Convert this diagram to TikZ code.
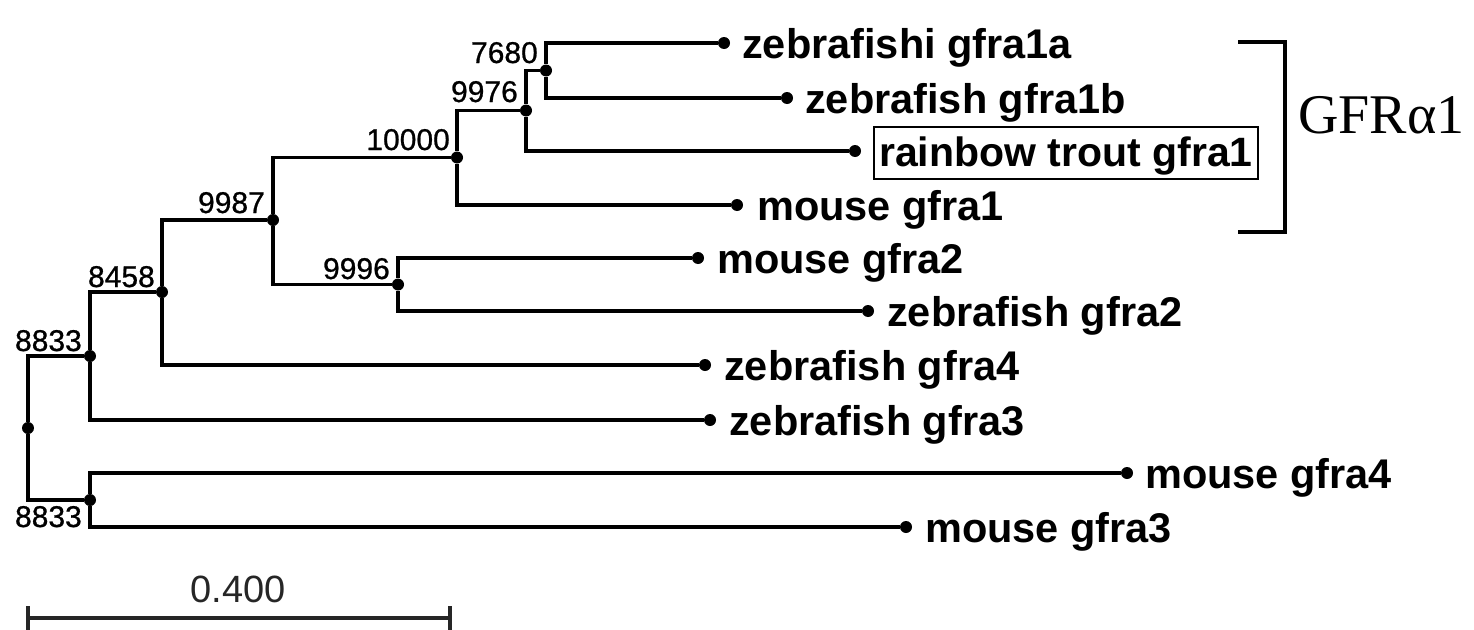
\documentclass[tikz,border=0pt]{standalone}
\usepackage{fontspec}
\setmainfont{Liberation Sans}
\newfontfamily\greekserif{Liberation Serif}
\newfontfamily\bootfont[FakeBold=0.8]{Liberation Sans}
\begin{document}
\begin{tikzpicture}[x=1pt,y=-1pt,
  branch/.style={line width=3.6pt},
  knot/.style={circle,fill=black,inner sep=0pt,minimum size=12pt},
  boot/.style={inner sep=0pt,anchor=base east,font=\bootfont\fontsize{30}{30}\selectfont},
  taxon/.style={inner sep=0pt,anchor=base west,font=\fontsize{41.5}{41.5}\selectfont\bfseries},
  hilite/.style={draw,line width=2.4pt,inner xsep=5pt,inner ysep=9pt,
    text height=30pt,text depth=4pt,anchor=base west,font=\fontsize{41}{41}\selectfont\bfseries},
  clade/.style={line width=4.5pt},
  scalebar/.style={line width=3.4pt,black!85}]
\useasboundingbox (0,0) rectangle (1474,629);

% internal nodes
\node[knot] (n7680) at (546,70.5) {};
\node[knot] (n9976) at (526,110.5) {};
\node[knot] (n10000) at (457,157.5) {};
\node[knot] (n9987) at (273,220) {};
\node[knot] (n9996) at (398,284.5) {};
\node[knot] (n8458) at (162,292) {};
\node[knot] (n8833a) at (90,356) {};
\node[knot] (root) at (28,428) {};
\node[knot] (n8833b) at (90,500) {};

% leaf tips
\node[knot] (t1a) at (724,43) {};
\node[knot] (t1b) at (787,98) {};
\node[knot] (ttr) at (855,151) {};
\node[knot] (tm1) at (737,205) {};
\node[knot] (tm2) at (698,258) {};
\node[knot] (tz2) at (868,311) {};
\node[knot] (tz4) at (705,365) {};
\node[knot] (tz3) at (710,420) {};
\node[knot] (tm4) at (1127,473) {};
\node[knot] (tm3) at (906,527) {};

% branches
\draw[branch] (n7680) |- (t1a);
\draw[branch] (n7680) |- (t1b);
\draw[branch] (n9976) |- (n7680);
\draw[branch] (n9976) |- (ttr);
\draw[branch] (n10000) |- (n9976);
\draw[branch] (n10000) |- (tm1);
\draw[branch] (n9987) |- (n10000);
\draw[branch] (n9987) |- (n9996);
\draw[branch] (n9996) |- (tm2);
\draw[branch] (n9996) |- (tz2);
\draw[branch] (n8458) |- (n9987);
\draw[branch] (n8458) |- (tz4);
\draw[branch] (n8833a) |- (n8458);
\draw[branch] (n8833a) |- (tz3);
\draw[branch] (root) |- (n8833a);
\draw[branch] (root) |- (n8833b);
\draw[branch] (n8833b) |- (tm4);
\draw[branch] (n8833b) |- (tm3);

% bootstrap values
\node[boot] (b7680) at (538,63) {7680};
\node[boot] (b9976) at (518,102) {9976};
\node[boot] (b10000) at (450,150) {10000};
\node[boot] (b9987) at (265,213) {9987};
\node[boot] (b9996) at (390,279) {9996};
\node[boot] (b8458) at (155,287) {8458};
\node[boot] (b8833a) at (82,351) {8833};
\node[boot] (b8833b) at (82,527) {8833};

% taxon labels
\node[taxon] (l1a) at (742,58) {zebrafishi gfra1a};
\node[taxon] (l1b) at (805,113) {zebrafish gfra1b};
\node[hilite] (ltr) at (873,166) {rainbow trout gfra1};
\node[taxon] (lm1) at (757,220) {mouse gfra1};
\node[taxon] (lm2) at (717,273) {mouse gfra2};
\node[taxon] (lz2) at (887,326) {zebrafish gfra2};
\node[taxon] (lz4) at (724,380) {zebrafish gfra4};
\node[taxon] (lz3) at (729,435) {zebrafish gfra3};
\node[taxon] (lm4) at (1145,488) {mouse gfra4};
\node[taxon] (lm3) at (925,542) {mouse gfra3};

% GFRa1 clade bracket
\coordinate (bt0) at (1238,42);
\coordinate (bt1) at (1285,42);
\coordinate (bb1) at (1285,232);
\coordinate (bb0) at (1238,232);
\draw[clade] (bt0) -- (bt1) -- (bb1) -- (bb0);
\node[inner sep=0pt,anchor=base west,font=\greekserif\fontsize{56}{56}\selectfont] (gfr) at (1298,133) {GFRα1};

% scale bar
\coordinate (s0) at (28,618);
\coordinate (s1) at (450,618);
\draw[scalebar] (s0) -- (s1);
\draw[scalebar] ([yshift=-12pt]s0) -- ([yshift=12pt]s0);
\draw[scalebar] ([yshift=-12pt]s1) -- ([yshift=12pt]s1);
\node[inner sep=0pt,anchor=base,text=black!85,font=\fontsize{38}{38}\selectfont] (slab) at (238,602) {0.400};
\end{tikzpicture}
\end{document}
